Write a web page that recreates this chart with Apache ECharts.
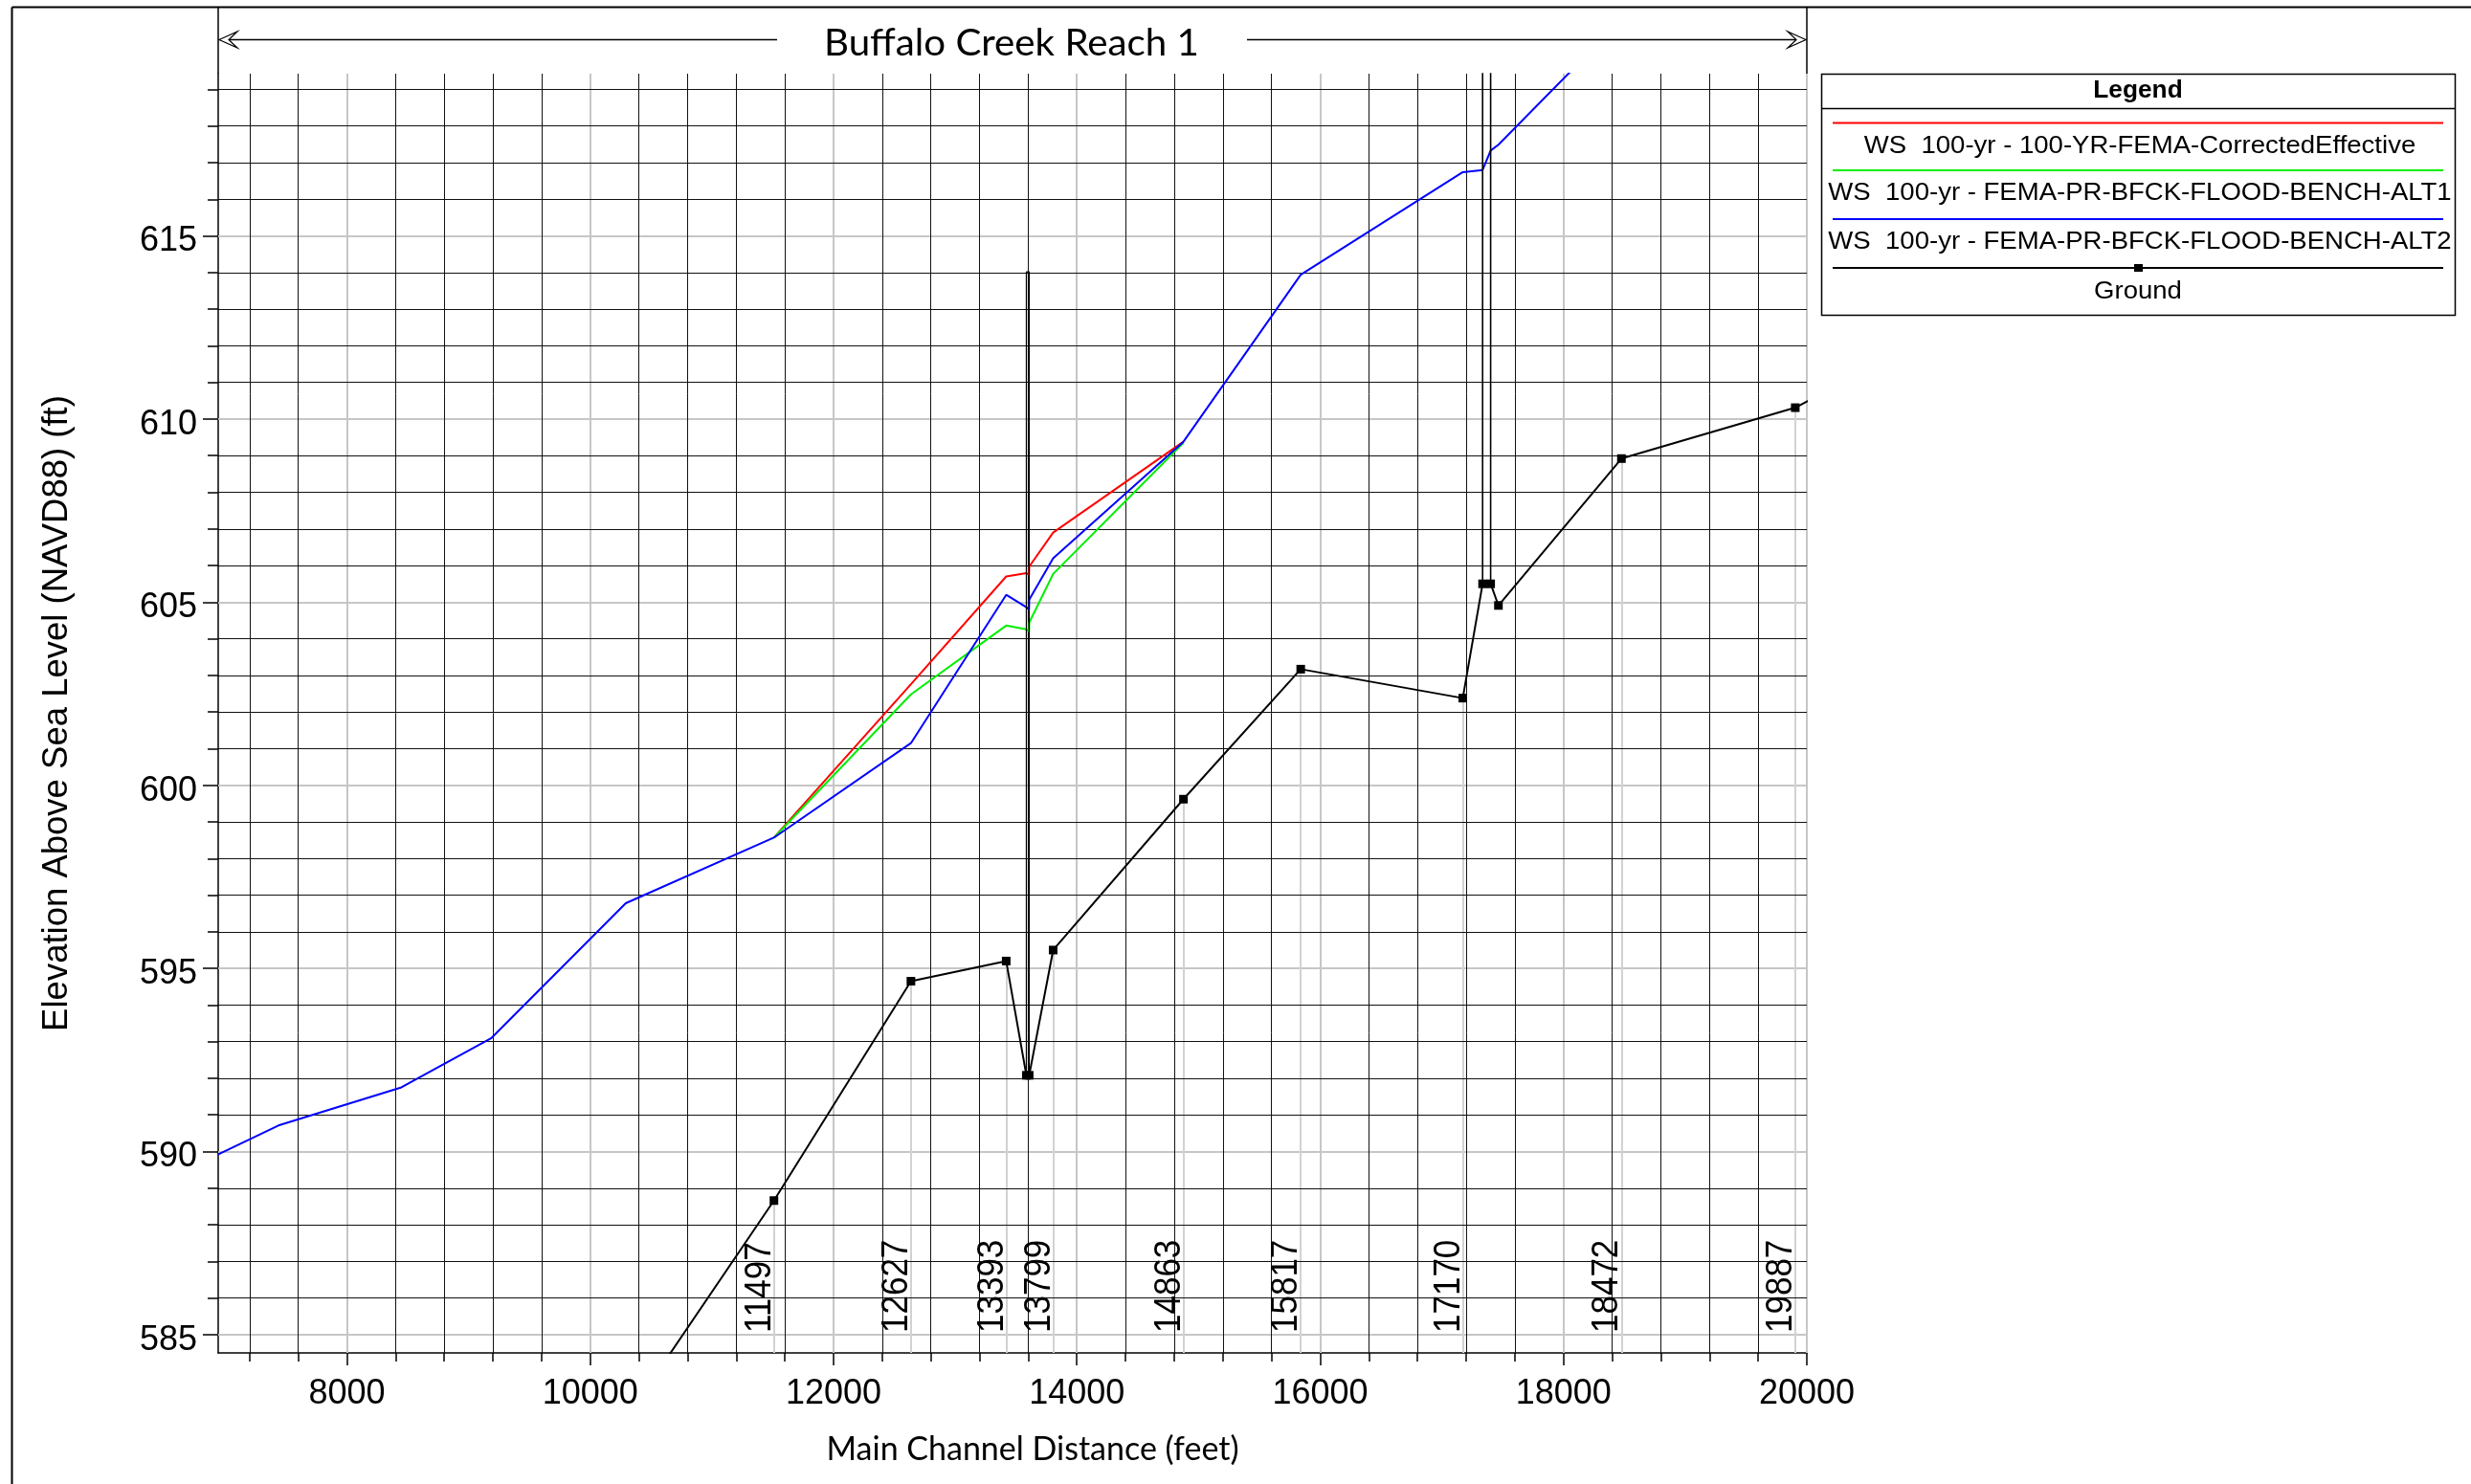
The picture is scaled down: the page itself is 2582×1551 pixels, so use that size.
<!DOCTYPE html>
<html>
<head>
<meta charset="utf-8">
<title>Buffalo Creek Reach 1 - Profile</title>
<script src="https://cdn.jsdelivr.net/npm/echarts@6/dist/echarts.min.js"></script>
<style>
  html, body { margin: 0; padding: 0; background: #ffffff; }
  #chart { width: 2582px; height: 1551px; }
</style>
</head>
<body>
<div id="chart"></div>
<script>
// ---------------- DATA ----------------
const reachName = 'Buffalo Creek Reach 1';

// axis ranges and tick values
const X_MIN = 6942, X_MAX = 20000;
const Y_MIN = 584.5, Y_MAX = 619.43;
const xMajorTicks = [8000, 10000, 12000, 14000, 16000, 18000, 20000];
const xMinorTicks = [7200, 7600, 8400, 8800, 9200, 9600, 10400, 10800, 11200, 11600,
                     12400, 12800, 13200, 13600, 14400, 14800, 15200, 15600,
                     16400, 16800, 17200, 17600, 18400, 18800, 19200, 19600];
const yMajorTicks = [585, 590, 595, 600, 605, 610, 615];
const yMinorTicks = [586, 587, 588, 589, 591, 592, 593, 594, 596, 597, 598, 599,
                     601, 602, 603, 604, 606, 607, 608, 609, 611, 612, 613, 614,
                     616, 617, 618, 619];

// cross sections: river-station label and main channel distance
const stationLabels = ['11497', '12627', '13393', '13799', '14863', '15817', '17170', '18472', '19887'];
const stationDist   = [11510, 12636, 13419, 13805, 14876, 15840, 17172, 18476, 19905];

// Ground profile
const groundDist = [10292, 11510, 12636, 13419, 13585, 13608, 13805, 14876, 15840,
                    17172, 17335, 17401, 17465, 18476, 19905, 21300];
const groundElev = [582.7, 588.66, 594.65, 595.20, 592.08, 592.08, 595.50, 599.62, 603.17,
                    602.38, 605.50, 605.50, 604.91, 608.92, 610.31, 612.8];

// WS 100-yr - 100-YR-FEMA-CorrectedEffective
const wsEffDist = [11510, 12636, 13419, 13585, 13606, 13608, 13805, 14876];
const wsEffElev = [598.57, 602.76, 605.70, 605.79, 605.75, 605.97, 606.90, 609.38];

// WS 100-yr - FEMA-PR-BFCK-FLOOD-BENCH-ALT1
const wsAlt1Dist = [11510, 12636, 13419, 13585, 13606, 13608, 13805, 14876];
const wsAlt1Elev = [598.57, 602.48, 604.36, 604.26, 604.20, 604.44, 605.77, 609.35];

// WS 100-yr - FEMA-PR-BFCK-FLOOD-BENCH-ALT2
const wsAlt2Dist = [6940, 7437, 8448, 9185, 10292, 11510, 12636, 13419, 13585, 13606, 13608,
                    13805, 14876, 15840, 17172, 17335, 17401, 17465, 18476];
const wsAlt2Elev = [589.92, 590.71, 591.75, 593.09, 596.78, 598.57, 601.15, 605.20, 604.86, 604.80, 605.07,
                    606.20, 609.38, 613.94, 616.74, 616.80, 617.33, 617.49, 620.90];

// Bridge / culvert structures (outline)
const bridge1Dist = [13585, 13585, 13608, 13608];
const bridge1Elev = [592.08, 614.02, 614.02, 592.08];
const bridge2Dist = [17335, 17335, 17401, 17401];
const bridge2Elev = [605.50, 622.0, 622.0, 605.50];

const seriesNames = [
  'WS  100-yr - 100-YR-FEMA-CorrectedEffective',
  'WS  100-yr - FEMA-PR-BFCK-FLOOD-BENCH-ALT1',
  'WS  100-yr - FEMA-PR-BFCK-FLOOD-BENCH-ALT2',
  'Ground'
];
const seriesColors = ['#ff0000', '#00ee00', '#0000ff', '#000000'];

// ---------------- HELPERS ----------------
const zip = (xs, ys) => xs.map((x, i) => [x, ys[i]]);
const ARIAL = '"Liberation Sans", Arial, Helvetica, sans-serif';
const HUMAN = 'Lato, "Open Sans", sans-serif';

const majorGrid = [];
xMajorTicks.forEach(v => majorGrid.push({ coords: [[v, Y_MIN], [v, Y_MAX]] }));
yMajorTicks.forEach(v => majorGrid.push({ coords: [[X_MIN, v], [X_MAX, v]] }));
const minorGrid = [];
xMinorTicks.forEach(v => minorGrid.push({ coords: [[v, Y_MIN], [v, Y_MAX]] }));
yMinorTicks.forEach(v => minorGrid.push({ coords: [[X_MIN, v], [X_MAX, v]] }));

const xsLines = stationDist.map(d => {
  const g = groundElev[groundDist.indexOf(d)];
  return { coords: [[d, g], [d, Y_MIN]] };
});

// ---------------- CHART ----------------
const chart = echarts.init(document.getElementById('chart'), null, { renderer: 'canvas' });

const gridRect = { left: 228, top: 77, width: 1660, height: 1337 };

const option = {
  animation: false,
  backgroundColor: '#ffffff',
  grid: [
    Object.assign({ show: false }, gridRect),
    Object.assign({ show: false }, gridRect)
  ],
  xAxis: [
    {
      type: 'value', gridIndex: 0, min: X_MIN, max: X_MAX,
      axisLine: { show: true, onZero: false, lineStyle: { color: '#000', width: 1.5 } },
      axisTick: { show: true, customValues: xMajorTicks, length: 13, lineStyle: { color: '#000', width: 1.5 } },
      axisLabel: { show: true, customValues: xMajorTicks, fontFamily: ARIAL, fontSize: 36, color: '#000', margin: 25,
                   formatter: v => String(v) },
      splitLine: { show: false },
      name: 'Main Channel Distance (feet)', nameLocation: 'middle', nameGap: 84,
      nameTextStyle: { fontFamily: HUMAN, fontSize: 34, color: '#000', padding: [0, 0, 0, 42] }
    },
    {
      type: 'value', gridIndex: 1, min: X_MIN, max: X_MAX,
      axisLine: { show: false },
      axisTick: { show: true, customValues: xMinorTicks, length: 9, lineStyle: { color: '#000', width: 1.5 } },
      axisLabel: { show: false },
      splitLine: { show: false }
    }
  ],
  yAxis: [
    {
      type: 'value', gridIndex: 0, min: Y_MIN, max: Y_MAX,
      axisLine: { show: true, onZero: false, lineStyle: { color: '#000', width: 1.5 } },
      axisTick: { show: true, customValues: yMajorTicks, length: 16, lineStyle: { color: '#000', width: 1.5 } },
      axisLabel: { show: true, customValues: yMajorTicks, color: '#000', margin: 22,
                   formatter: v => '{v|' + v + '}',
                   rich: { v: { fontFamily: ARIAL, fontSize: 36, color: '#000', padding: [12, 0, 0, 0] } } },
      splitLine: { show: false },
      name: 'Elevation Above Sea Level (NAVD88) (ft)', nameLocation: 'middle', nameRotate: 90, nameGap: 150,
      nameTextStyle: { fontFamily: ARIAL, fontSize: 36.5, color: '#000' }
    },
    {
      type: 'value', gridIndex: 1, min: Y_MIN, max: Y_MAX,
      axisLine: { show: false },
      axisTick: { show: true, customValues: yMinorTicks, length: 11, lineStyle: { color: '#000', width: 1.5 } },
      axisLabel: { show: false },
      splitLine: { show: false }
    }
  ],
  series: [
    {
      type: 'lines', name: 'majorGrid', coordinateSystem: 'cartesian2d', xAxisIndex: 0, yAxisIndex: 0,
      silent: true, z: 1, polyline: false,
      lineStyle: { color: '#c6c6c6', width: 2, opacity: 1 },
      data: majorGrid
    },
    {
      type: 'lines', name: 'xsLines', coordinateSystem: 'cartesian2d', xAxisIndex: 0, yAxisIndex: 0,
      silent: true, z: 1, polyline: false,
      lineStyle: { color: '#d2d2d2', width: 2, opacity: 1 },
      data: xsLines
    },
    {
      type: 'lines', name: 'minorGrid', coordinateSystem: 'cartesian2d', xAxisIndex: 0, yAxisIndex: 0,
      silent: true, z: 2, polyline: false,
      lineStyle: { color: '#111111', width: 1, opacity: 1 },
      data: minorGrid
    },
    {
      type: 'line', name: seriesNames[0], xAxisIndex: 0, yAxisIndex: 0, z: 3, clip: true,
      showSymbol: false, symbol: 'none', silent: true,
      lineStyle: { color: seriesColors[0], width: 2 },
      data: zip(wsEffDist, wsEffElev)
    },
    {
      type: 'line', name: seriesNames[1], xAxisIndex: 0, yAxisIndex: 0, z: 3, clip: true,
      showSymbol: false, symbol: 'none', silent: true,
      lineStyle: { color: seriesColors[1], width: 2 },
      data: zip(wsAlt1Dist, wsAlt1Elev)
    },
    {
      type: 'line', name: seriesNames[2], xAxisIndex: 0, yAxisIndex: 0, z: 3, clip: true,
      showSymbol: false, symbol: 'none', silent: true,
      lineStyle: { color: seriesColors[2], width: 2 },
      data: zip(wsAlt2Dist, wsAlt2Elev)
    },
    {
      type: 'line', name: seriesNames[3], xAxisIndex: 0, yAxisIndex: 0, z: 4, clip: true,
      symbol: 'rect', symbolSize: 9, showSymbol: true, showAllSymbol: true, silent: true,
      itemStyle: { color: '#000' },
      lineStyle: { color: '#000', width: 2 },
      data: zip(groundDist, groundElev)
    },
    {
      type: 'line', name: 'bridge1', xAxisIndex: 0, yAxisIndex: 0, z: 5, clip: true,
      symbol: 'none', silent: true,
      lineStyle: { color: '#000', width: 1.3 },
      data: zip(bridge1Dist, bridge1Elev)
    },
    {
      type: 'line', name: 'bridge2', xAxisIndex: 0, yAxisIndex: 0, z: 5, clip: true,
      symbol: 'none', silent: true,
      lineStyle: { color: '#000', width: 1.6 },
      data: zip(bridge2Dist, bridge2Elev)
    },
    {
      type: 'custom', name: 'stationLabels', coordinateSystem: 'cartesian2d', xAxisIndex: 0, yAxisIndex: 0,
      z: 6, silent: true, clip: false,
      data: stationDist.map(d => [d, Y_MIN]),
      renderItem: function (params, api) {
        const p = api.coord([api.value(0), api.value(1)]);
        return {
          type: 'text',
          x: p[0] + 5,
          y: p[1] - 21,
          rotation: Math.PI / 2,
          scaleY: 1.12,
          style: {
            text: stationLabels[params.dataIndex],
            fontFamily: ARIAL, fontSize: 35, fill: '#000',
            align: 'left', verticalAlign: 'bottom'
          }
        };
      }
    }
  ],
  graphic: [
    // outer frame
    { type: 'line', silent: true, shape: { x1: 12.5, y1: 7.5, x2: 2582, y2: 7.5 }, style: { stroke: '#000', lineWidth: 2 } },
    { type: 'line', silent: true, shape: { x1: 12.5, y1: 7.5, x2: 12.5, y2: 1551 }, style: { stroke: '#000', lineWidth: 2 } },
    // title band
    { type: 'line', silent: true, shape: { x1: 228, y1: 7.5, x2: 228, y2: 77 }, style: { stroke: '#000', lineWidth: 1.5 } },
    { type: 'line', silent: true, shape: { x1: 1888, y1: 7.5, x2: 1888, y2: 78 }, style: { stroke: '#000', lineWidth: 1.5 } },
    { type: 'line', silent: true, shape: { x1: 230, y1: 41.5, x2: 812, y2: 41.5 }, style: { stroke: '#000', lineWidth: 1.5 } },
    { type: 'polygon', silent: true, shape: { points: [[229, 41.5], [248, 33], [239, 41.5], [248, 50]] }, style: { fill: '#fff', stroke: '#000', lineWidth: 1.2 } },
    { type: 'line', silent: true, shape: { x1: 1303, y1: 41.5, x2: 1886, y2: 41.5 }, style: { stroke: '#000', lineWidth: 1.5 } },
    { type: 'polygon', silent: true, shape: { points: [[1887, 41.5], [1868, 33], [1877, 41.5], [1868, 50]] }, style: { fill: '#fff', stroke: '#000', lineWidth: 1.2 } },
    { type: 'text', silent: true, x: 1057, y: 46, scaleX: 1.06,
      style: { text: reachName, fontFamily: HUMAN, fontSize: 38, fill: '#000', align: 'center', verticalAlign: 'middle' } },
    // legend box
    { type: 'rect', silent: true, shape: { x: 1903.5, y: 77.5, width: 662, height: 252 }, style: { fill: '#fff', stroke: '#000', lineWidth: 1.5 } },
    { type: 'line', silent: true, shape: { x1: 1903.5, y1: 113.5, x2: 2565.5, y2: 113.5 }, style: { stroke: '#000', lineWidth: 1.5 } },
    { type: 'text', silent: true, x: 2234, y: 95, scaleX: 1.05,
      style: { text: 'Legend', fontFamily: ARIAL, fontWeight: 'bold', fontSize: 25, fill: '#000', align: 'center', verticalAlign: 'middle' } },
    { type: 'line', silent: true, shape: { x1: 1915, y1: 128.5, x2: 2553, y2: 128.5 }, style: { stroke: seriesColors[0], lineWidth: 2 } },
    { type: 'text', silent: true, x: 2236, y: 153, scaleX: 1.08,
      style: { text: seriesNames[0], fontFamily: ARIAL, fontSize: 25.5, fill: '#000', align: 'center', verticalAlign: 'middle' } },
    { type: 'line', silent: true, shape: { x1: 1915, y1: 178, x2: 2553, y2: 178 }, style: { stroke: seriesColors[1], lineWidth: 2 } },
    { type: 'text', silent: true, x: 2236, y: 202, scaleX: 1.08,
      style: { text: seriesNames[1], fontFamily: ARIAL, fontSize: 25.5, fill: '#000', align: 'center', verticalAlign: 'middle' } },
    { type: 'line', silent: true, shape: { x1: 1915, y1: 229, x2: 2553, y2: 229 }, style: { stroke: seriesColors[2], lineWidth: 2 } },
    { type: 'text', silent: true, x: 2236, y: 253, scaleX: 1.08,
      style: { text: seriesNames[2], fontFamily: ARIAL, fontSize: 25.5, fill: '#000', align: 'center', verticalAlign: 'middle' } },
    { type: 'line', silent: true, shape: { x1: 1915, y1: 280, x2: 2553, y2: 280 }, style: { stroke: seriesColors[3], lineWidth: 2 } },
    { type: 'rect', silent: true, shape: { x: 2230, y: 276, width: 9, height: 8 }, style: { fill: '#000' } },
    { type: 'text', silent: true, x: 2234, y: 305, scaleX: 1.08,
      style: { text: seriesNames[3], fontFamily: ARIAL, fontSize: 25.5, fill: '#000', align: 'center', verticalAlign: 'middle' } }
  ]
};

chart.setOption(option);
</script>
</body>
</html>
